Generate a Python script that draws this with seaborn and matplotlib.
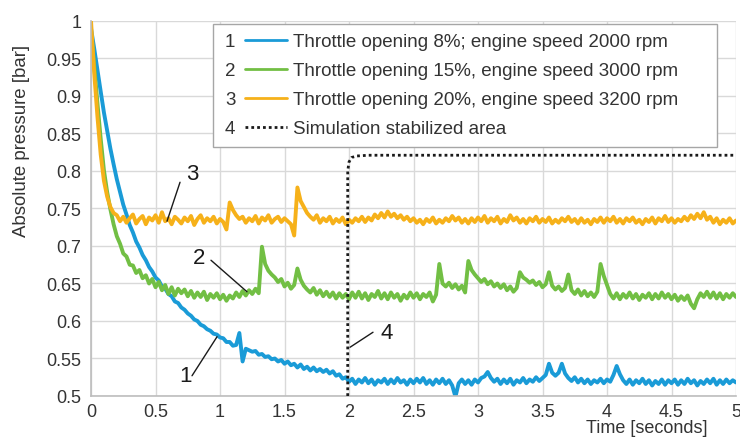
import numpy as np
import pandas as pd
import matplotlib
matplotlib.use("Agg")
import matplotlib.pyplot as plt
import seaborn as sns
from matplotlib.legend_handler import HandlerLine2D
from matplotlib.text import Text

# ---------------- data ----------------
T_STEP = 0.025  # seconds between samples

SERIES_LABELS = [
    "Throttle opening 8%; engine speed 2000 rpm",
    "Throttle opening 15%, engine speed 3000 rpm",
    "Throttle opening 20%, engine speed 3200 rpm",
    "Simulation stabilized area",
]
SERIES_NUMBERS = ["1", "2", "3", "4"]

P_8 = [
    0.990, 0.963, 0.934, 0.906, 0.878, 0.854, 0.830, 0.809, 0.789, 0.772, 0.755, 0.742, 0.728, 0.718, 0.706, 0.698, 0.688, 0.681, 0.672, 0.666,
    0.658, 0.654, 0.646, 0.643, 0.636, 0.633, 0.626, 0.624, 0.618, 0.615, 0.610, 0.607, 0.602, 0.600, 0.595, 0.593, 0.589, 0.587, 0.583, 0.582,
    0.578, 0.577, 0.572, 0.572, 0.567, 0.568, 0.584, 0.546, 0.563, 0.561, 0.559, 0.560, 0.555, 0.556, 0.552, 0.553, 0.549, 0.550, 0.546, 0.548,
    0.543, 0.546, 0.541, 0.543, 0.538, 0.542, 0.536, 0.539, 0.534, 0.538, 0.533, 0.536, 0.532, 0.535, 0.530, 0.533, 0.527, 0.529, 0.523, 0.525,
    0.519, 0.523, 0.516, 0.522, 0.518, 0.524, 0.517, 0.522, 0.515, 0.521, 0.518, 0.523, 0.516, 0.522, 0.517, 0.524, 0.518, 0.521, 0.515, 0.522,
    0.517, 0.523, 0.518, 0.524, 0.516, 0.521, 0.515, 0.522, 0.517, 0.523, 0.516, 0.521, 0.514, 0.499, 0.517, 0.522, 0.516, 0.521, 0.515, 0.522,
    0.518, 0.524, 0.526, 0.532, 0.524, 0.519, 0.523, 0.516, 0.522, 0.517, 0.523, 0.515, 0.521, 0.518, 0.524, 0.517, 0.522, 0.519, 0.525, 0.520,
    0.524, 0.528, 0.543, 0.531, 0.527, 0.531, 0.543, 0.530, 0.524, 0.520, 0.525, 0.518, 0.523, 0.517, 0.522, 0.516, 0.521, 0.518, 0.523, 0.517,
    0.522, 0.519, 0.528, 0.540, 0.529, 0.521, 0.516, 0.522, 0.515, 0.521, 0.517, 0.523, 0.516, 0.521, 0.514, 0.520, 0.516, 0.522, 0.515, 0.521,
    0.517, 0.522, 0.515, 0.521, 0.516, 0.523, 0.517, 0.521, 0.514, 0.520, 0.516, 0.522, 0.517, 0.523, 0.515, 0.521, 0.516, 0.522, 0.517, 0.521,
    0.518,
]

P_15 = [
    0.985, 0.940, 0.890, 0.843, 0.801, 0.772, 0.749, 0.729, 0.713, 0.703, 0.690, 0.686, 0.675, 0.674, 0.664, 0.668, 0.657, 0.661, 0.650, 0.656,
    0.645, 0.652, 0.641, 0.648, 0.636, 0.645, 0.634, 0.643, 0.637, 0.642, 0.633, 0.640, 0.631, 0.638, 0.632, 0.639, 0.628, 0.636, 0.631, 0.637,
    0.629, 0.635, 0.627, 0.634, 0.630, 0.638, 0.632, 0.640, 0.634, 0.641, 0.636, 0.643, 0.637, 0.699, 0.676, 0.667, 0.662, 0.658, 0.652, 0.656,
    0.646, 0.651, 0.643, 0.648, 0.670, 0.655, 0.647, 0.642, 0.638, 0.644, 0.635, 0.641, 0.633, 0.639, 0.632, 0.638, 0.630, 0.637, 0.631, 0.636,
    0.629, 0.638, 0.631, 0.639, 0.630, 0.637, 0.628, 0.636, 0.632, 0.640, 0.630, 0.637, 0.629, 0.638, 0.631, 0.636, 0.627, 0.635, 0.630, 0.638,
    0.631, 0.637, 0.629, 0.636, 0.632, 0.638, 0.626, 0.635, 0.676, 0.650, 0.646, 0.651, 0.644, 0.649, 0.642, 0.647, 0.638, 0.680, 0.668, 0.662,
    0.657, 0.652, 0.656, 0.649, 0.653, 0.646, 0.650, 0.644, 0.649, 0.641, 0.646, 0.639, 0.644, 0.665, 0.658, 0.655, 0.651, 0.654, 0.648, 0.652,
    0.645, 0.649, 0.665, 0.647, 0.642, 0.646, 0.640, 0.644, 0.662, 0.641, 0.636, 0.642, 0.634, 0.640, 0.633, 0.638, 0.632, 0.639, 0.676, 0.660,
    0.648, 0.636, 0.630, 0.637, 0.629, 0.636, 0.631, 0.638, 0.630, 0.636, 0.628, 0.635, 0.631, 0.637, 0.629, 0.636, 0.630, 0.638, 0.631, 0.636,
    0.629, 0.635, 0.627, 0.633, 0.628, 0.634, 0.623, 0.617, 0.629, 0.637, 0.632, 0.639, 0.631, 0.638, 0.630, 0.637, 0.629, 0.636, 0.631, 0.637,
    0.632,
]

P_20 = [
    1.000, 0.930, 0.872, 0.822, 0.787, 0.766, 0.752, 0.744, 0.741, 0.733, 0.739, 0.731, 0.737, 0.742, 0.730, 0.736, 0.740, 0.729, 0.738, 0.734,
    0.741, 0.731, 0.745, 0.733, 0.737, 0.729, 0.739, 0.735, 0.730, 0.738, 0.733, 0.740, 0.728, 0.736, 0.741, 0.731, 0.737, 0.733, 0.739, 0.730,
    0.736, 0.732, 0.722, 0.758, 0.748, 0.741, 0.736, 0.739, 0.731, 0.737, 0.733, 0.740, 0.730, 0.738, 0.734, 0.741, 0.731, 0.736, 0.739, 0.732,
    0.737, 0.733, 0.729, 0.714, 0.778, 0.760, 0.752, 0.744, 0.739, 0.735, 0.741, 0.731, 0.737, 0.733, 0.739, 0.730, 0.736, 0.732, 0.738, 0.729,
    0.735, 0.731, 0.737, 0.733, 0.739, 0.732, 0.738, 0.734, 0.742, 0.737, 0.744, 0.738, 0.746, 0.739, 0.743, 0.737, 0.741, 0.735, 0.739, 0.733,
    0.737, 0.731, 0.735, 0.729, 0.736, 0.732, 0.738, 0.730, 0.735, 0.731, 0.737, 0.733, 0.740, 0.734, 0.738, 0.731, 0.736, 0.730, 0.737, 0.732,
    0.738, 0.733, 0.740, 0.731, 0.737, 0.733, 0.739, 0.730, 0.736, 0.732, 0.741, 0.734, 0.738, 0.731, 0.736, 0.730, 0.737, 0.733, 0.739, 0.731,
    0.736, 0.732, 0.738, 0.730, 0.735, 0.731, 0.737, 0.733, 0.739, 0.732, 0.736, 0.730, 0.737, 0.731, 0.735, 0.729, 0.736, 0.732, 0.738, 0.731,
    0.737, 0.733, 0.739, 0.731, 0.736, 0.730, 0.737, 0.733, 0.738, 0.731, 0.735, 0.729, 0.736, 0.732, 0.738, 0.730, 0.737, 0.733, 0.740, 0.732,
    0.737, 0.731, 0.736, 0.733, 0.739, 0.734, 0.741, 0.736, 0.743, 0.737, 0.745, 0.735, 0.739, 0.731, 0.737, 0.729, 0.735, 0.731, 0.737, 0.730,
    0.734,
]

STAB_T = [1.99, 1.99, 2.00, 2.02, 2.06, 2.15, 5.00]
STAB_P = [0.500, 0.800, 0.812, 0.818, 0.820, 0.821, 0.821]

X_TICKS = [0, 0.5, 1, 1.5, 2, 2.5, 3, 3.5, 4, 4.5, 5]
X_TICK_LABELS = ["0", "0.5", "1", "1.5", "2", "2.5", "3", "3.5", "4", "4.5", "5"]
Y_TICKS = [0.5, 0.55, 0.6, 0.65, 0.7, 0.75, 0.8, 0.85, 0.9, 0.95, 1.0]
Y_TICK_LABELS = ["0.5", "0.55", "0.6", "0.65", "0.7", "0.75", "0.8", "0.85", "0.9", "0.95", "1"]

# ---------------- style ----------------
COLORS = ["#1a9bd7", "#72bf44", "#f6b11a"]
TEXT_COLOR = "#333333"
GRID_COLOR = "#d9d9d9"

sns.set_theme(style="whitegrid")
plt.rcParams["font.family"] = ["Liberation Sans", "DejaVu Sans"]
plt.rcParams["text.color"] = TEXT_COLOR

fig = plt.figure(figsize=(7.4, 4.39), dpi=100)
ax = fig.add_axes([0.123, 0.0957, 0.8716, 0.8542])


def frame(values):
    return pd.DataFrame({"t": np.arange(len(values)) * T_STEP, "p": values})


for vals, col, lab in zip([P_8, P_15, P_20], COLORS, SERIES_LABELS[:3]):
    sns.lineplot(data=frame(vals), x="t", y="p", ax=ax, color=col, lw=2.8,
                 estimator=None, sort=False, label=lab)

sns.lineplot(data=pd.DataFrame({"t": STAB_T, "p": STAB_P}), x="t", y="p", ax=ax,
             color="#1a1a1a", lw=2.0, linestyle=(0, (1, 1.1)), estimator=None,
             sort=False, label=SERIES_LABELS[3], zorder=5)

ax.set_xlim(0, 5)
ax.set_ylim(0.5, 1.0)
ax.set_xticks(X_TICKS)
ax.set_xticklabels(X_TICK_LABELS)
ax.set_yticks(Y_TICKS)
ax.set_yticklabels(Y_TICK_LABELS)
ax.tick_params(axis="both", labelsize=13, colors=TEXT_COLOR, length=0)
ax.tick_params(axis="y", pad=7)
ax.tick_params(axis="x", pad=5)
ax.grid(True, color=GRID_COLOR, lw=1.0)
ax.set_facecolor("white")
for side in ["top", "right"]:
    ax.spines[side].set_visible(False)
for side in ["left", "bottom"]:
    ax.spines[side].set_color("#bdbdbd")
    ax.spines[side].set_linewidth(1.2)

ax.set_xlabel("Time [seconds]", fontsize=13, color=TEXT_COLOR)
ax.xaxis.set_label_coords(0.862, -0.062)
ax.set_ylabel("Absolute pressure [bar]", fontsize=13.4, color=TEXT_COLOR)
ax.yaxis.set_label_coords(-0.095, 0.683)


# ---------------- legend with numbered entries ----------------
class NumberedHandler(HandlerLine2D):
    def __init__(self, number, **kw):
        super().__init__(**kw)
        self.number = number

    def create_artists(self, legend, orig_handle, xdescent, ydescent, width,
                       height, fontsize, trans):
        gap = fontsize * 1.2
        arts = super().create_artists(legend, orig_handle, xdescent - gap,
                                      ydescent, width - gap, height,
                                      fontsize, trans)
        for a in arts:
            if a.get_linestyle() == "-":
                a.set_linewidth(2.0)
        num = Text(-xdescent + 0.15 * fontsize, (height - ydescent) / 2.0,
                   self.number, fontsize=fontsize, ha="left",
                   va="center_baseline", color=TEXT_COLOR, transform=trans)
        return list(arts) + [num]


handles, labels = ax.get_legend_handles_labels()
hmap = {h: NumberedHandler(n) for h, n in zip(handles, SERIES_NUMBERS)}
leg = ax.legend(handles, labels, handler_map=hmap, loc="upper left",
                bbox_to_anchor=(0.189, 0.5, 0.7815, 0.492), mode="expand",
                fontsize=13.5, frameon=True,
                fancybox=False, edgecolor="#a6a6a6", framealpha=1.0,
                handlelength=3.45, handletextpad=0.32, labelspacing=0.63,
                borderpad=0.5, borderaxespad=0.0)
leg.get_frame().set_linewidth(1.0)
for t in leg.get_texts():
    t.set_color(TEXT_COLOR)

# ---------------- curve call-outs ----------------
CALLOUTS = [
    ("3", (0.783, 0.797), (0.690, 0.785), (0.589, 0.733)),
    ("2", (0.837, 0.684), (0.930, 0.681), (1.209, 0.639)),
    ("1", (0.736, 0.527), (0.783, 0.527), (0.977, 0.579)),
    ("4", (2.295, 0.585), (2.186, 0.585), (2.008, 0.565)),
]
for txt, tpos, start, end in CALLOUTS:
    ax.annotate("", xy=end, xytext=start,
                arrowprops=dict(arrowstyle="-", color="#1a1a1a", lw=1.0,
                                shrinkA=0, shrinkB=0), zorder=6)
    ax.text(tpos[0], tpos[1], txt, fontsize=16, ha="center", va="center",
            color="#1a1a1a", zorder=6)

fig.savefig("out.png", dpi=100)
